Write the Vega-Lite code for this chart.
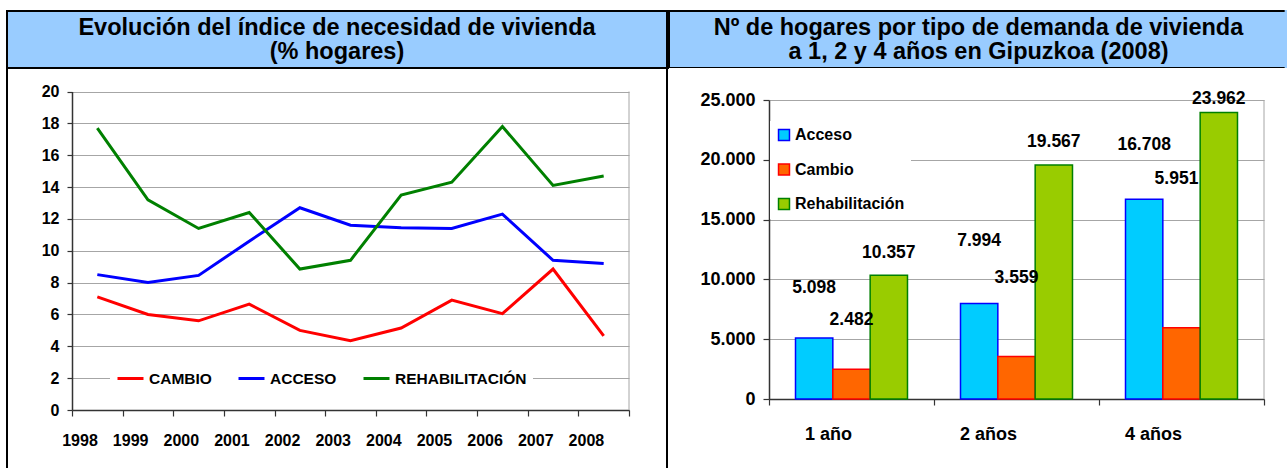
{
  "$schema": "https://vega.github.io/schema/vega-lite/v6.json",
  "padding": {"left": 6, "top": 10, "right": 0, "bottom": 0},
  "background": "white",
  "spacing": 0,
  "resolve": {"legend": {"color": "independent", "fill": "independent", "stroke": "independent"}},
  "config": {
    "locale": {"number": {"decimal": ",", "thousands": ".", "grouping": [3], "currency": ["", " €"]}},
    "view": {"stroke": null},
    "axis": {
      "labelFont": "Liberation Sans",
      "labelFontWeight": "bold",
      "labelColor": "black",
      "domainColor": "#333333",
      "domainWidth": 1.5,
      "tickColor": "#333333",
      "tickWidth": 1.2,
      "gridColor": "#a6a6a6",
      "gridWidth": 1,
      "title": null
    }
  },
  "hconcat": [
    {
      "spacing": 0,
      "bounds": "flush",
      "resolve": {"legend": {"color": "independent", "fill": "independent", "stroke": "independent"}},
      "vconcat": [
        {
          "width": 660,
          "height": 57,
          "view": {"fill": "#99ccff", "stroke": "black", "strokeWidth": 2},
          "data": {"values": [{}]},
          "mark": {"type": "text", "text": ""},
          "title": {
            "text": ["Evolución del índice de necesidad de vivienda", "(% hogares)"],
            "orient": "top",
            "anchor": "middle",
            "frame": "group",
            "offset": -64.5,
            "baseline": "middle",
            "lineHeight": 24,
            "font": "Liberation Sans",
            "fontSize": 23.5,
            "fontWeight": "bold",
            "color": "black"
          }
        },
        {
          "width": 660,
          "height": 403,
          "view": {
            "fill": "white",
            "strokeWidth": 2,
            "stroke": {
              "gradient": "linear", "x1": 0, "y1": 0, "x2": 0, "y2": 1,
              "stops": [
                {"offset": 0, "color": "black"},
                {"offset": 0.993, "color": "black"},
                {"offset": 0.9935, "color": "white"},
                {"offset": 1, "color": "white"}
              ]
            }
          },
          "layer": [
            {
              "data": {"values": [{}]},
              "mark": {"type": "rule", "color": "#a6a6a6", "strokeWidth": 1},
              "encoding": {
                "x": {"datum": "2008", "type": "nominal", "bandPosition": 1},
                "y": {"datum": 0, "type": "quantitative"},
                "y2": {"datum": 20}
              }
            },
            {
              "data": {
                "values": [
                  {"year": "1998", "serie": "CAMBIO", "value": 7.1},
                  {"year": "1999", "serie": "CAMBIO", "value": 6.0},
                  {"year": "2000", "serie": "CAMBIO", "value": 5.6},
                  {"year": "2001", "serie": "CAMBIO", "value": 6.65},
                  {"year": "2002", "serie": "CAMBIO", "value": 5.0},
                  {"year": "2003", "serie": "CAMBIO", "value": 4.35},
                  {"year": "2004", "serie": "CAMBIO", "value": 5.15},
                  {"year": "2005", "serie": "CAMBIO", "value": 6.9},
                  {"year": "2006", "serie": "CAMBIO", "value": 6.05},
                  {"year": "2007", "serie": "CAMBIO", "value": 8.85},
                  {"year": "2008", "serie": "CAMBIO", "value": 4.65},
                  {"year": "1998", "serie": "ACCESO", "value": 8.5},
                  {"year": "1999", "serie": "ACCESO", "value": 8.0},
                  {"year": "2000", "serie": "ACCESO", "value": 8.45},
                  {"year": "2001", "serie": "ACCESO", "value": 10.6},
                  {"year": "2002", "serie": "ACCESO", "value": 12.7},
                  {"year": "2003", "serie": "ACCESO", "value": 11.6},
                  {"year": "2004", "serie": "ACCESO", "value": 11.45},
                  {"year": "2005", "serie": "ACCESO", "value": 11.4},
                  {"year": "2006", "serie": "ACCESO", "value": 12.3},
                  {"year": "2007", "serie": "ACCESO", "value": 9.4},
                  {"year": "2008", "serie": "ACCESO", "value": 9.2},
                  {"year": "1998", "serie": "REHABILITACIÓN", "value": 17.7},
                  {"year": "1999", "serie": "REHABILITACIÓN", "value": 13.2},
                  {"year": "2000", "serie": "REHABILITACIÓN", "value": 11.4},
                  {"year": "2001", "serie": "REHABILITACIÓN", "value": 12.4},
                  {"year": "2002", "serie": "REHABILITACIÓN", "value": 8.85},
                  {"year": "2003", "serie": "REHABILITACIÓN", "value": 9.4},
                  {"year": "2004", "serie": "REHABILITACIÓN", "value": 13.5},
                  {"year": "2005", "serie": "REHABILITACIÓN", "value": 14.3},
                  {"year": "2006", "serie": "REHABILITACIÓN", "value": 17.8},
                  {"year": "2007", "serie": "REHABILITACIÓN", "value": 14.1},
                  {"year": "2008", "serie": "REHABILITACIÓN", "value": 14.7}
                ]
              },
              "mark": {"type": "line", "strokeWidth": 3},
              "encoding": {
                "x": {
                  "field": "year",
                  "type": "nominal",
                  "scale": {"type": "band", "range": [65, 622], "paddingInner": 0, "paddingOuter": 0},
                  "axis": {
                    "orient": "bottom",
                    "offset": -61,
                    "tickBand": "extent",
                    "tickSize": 6,
                    "labelPadding": 24,
                    "labelFontSize": 16,
                    "labelAngle": 0,
                    "grid": false
                  }
                },
                "y": {
                  "field": "value",
                  "type": "quantitative",
                  "scale": {"domain": [0, 20], "range": [342, 23.5], "nice": false},
                  "axis": {
                    "orient": "left",
                    "offset": -65,
                    "values": [0, 2, 4, 6, 8, 10, 12, 14, 16, 18, 20],
                    "tickSize": 5,
                    "labelPadding": 8,
                    "labelFontSize": 16,
                    "grid": true
                  }
                },
                "color": {
                  "field": "serie",
                  "type": "nominal",
                  "sort": ["CAMBIO", "ACCESO", "REHABILITACIÓN"],
                  "scale": {"domain": ["CAMBIO", "ACCESO", "REHABILITACIÓN"], "range": ["#ff0000", "#0000ff", "#008000"]},
                  "legend": {
                    "orient": "none",
                    "legendX": 103,
                    "legendY": 290,
                    "direction": "horizontal",
                    "title": null,
                    "fillColor": "white",
                    "padding": 6,
                    "symbolType": "stroke",
                    "symbolSize": 676,
                    "symbolStrokeWidth": 3,
                    "labelFont": "Liberation Sans",
                    "labelFontSize": 15.5,
                    "labelFontWeight": "bold",
                    "labelColor": "black",
                    "labelOffset": 4,
                    "labelLimit": 400,
                    "columnPadding": 20
                  }
                }
              }
            }
          ]
        }
      ]
    },
    {
      "spacing": 0,
      "bounds": "flush",
      "resolve": {"legend": {"color": "independent", "fill": "independent", "stroke": "independent"}},
      "vconcat": [
        {
          "width": 619,
          "height": 57,
          "view": {
            "fill": "#99ccff",
            "strokeWidth": 2,
            "stroke": {
              "gradient": "linear", "x1": 0, "y1": 0, "x2": 1, "y2": 0,
              "stops": [
                {"offset": 0, "color": "black"},
                {"offset": 0.994, "color": "black"},
                {"offset": 0.995, "color": "#99ccff"},
                {"offset": 1, "color": "#99ccff"}
              ]
            }
          },
          "data": {"values": [{}]},
          "mark": {"type": "text", "text": ""},
          "title": {
            "text": ["Nº de hogares por tipo de demanda de vivienda", "a 1, 2 y 4 años en Gipuzkoa (2008)"],
            "orient": "top",
            "anchor": "middle",
            "frame": "group",
            "offset": -64.5,
            "baseline": "middle",
            "lineHeight": 24,
            "font": "Liberation Sans",
            "fontSize": 23.5,
            "fontWeight": "bold",
            "color": "black"
          }
        },
        {
          "width": 619,
          "height": 403,
          "view": {"fill": "white", "stroke": null},
          "data": {
            "values": [
              {"plazo": "1 año", "tipo": "Acceso", "value": 5098},
              {"plazo": "1 año", "tipo": "Cambio", "value": 2482},
              {"plazo": "1 año", "tipo": "Rehabilitación", "value": 10357},
              {"plazo": "2 años", "tipo": "Acceso", "value": 7994},
              {"plazo": "2 años", "tipo": "Cambio", "value": 3559},
              {"plazo": "2 años", "tipo": "Rehabilitación", "value": 19567},
              {"plazo": "4 años", "tipo": "Acceso", "value": 16708},
              {"plazo": "4 años", "tipo": "Cambio", "value": 5951},
              {"plazo": "4 años", "tipo": "Rehabilitación", "value": 23962}
            ]
          },
          "layer": [
            {
              "data": {"values": [{}]},
              "mark": {"type": "rule", "color": "#a6a6a6", "strokeWidth": 1},
              "encoding": {
                "x": {"datum": "4 años", "type": "nominal", "bandPosition": 1},
                "y": {"datum": 0, "type": "quantitative"},
                "y2": {"datum": 25000}
              }
            },
            {
              "mark": {"type": "bar", "strokeWidth": 1.5},
              "encoding": {
                "x": {
                  "field": "plazo",
                  "type": "nominal",
                  "scale": {"type": "band", "range": [100, 595], "paddingInner": 0, "paddingOuter": 0},
                  "axis": {
                    "orient": "bottom",
                    "offset": -72,
                    "tickBand": "extent",
                    "tickSize": 6,
                    "labelPadding": 29,
                    "labelFontSize": 18,
                    "labelAngle": 0,
                    "grid": false
                  }
                },
                "xOffset": {
                  "field": "tipo",
                  "type": "nominal",
                  "scale": {"paddingInner": 0, "paddingOuter": 0.71}
                },
                "y": {
                  "field": "value",
                  "type": "quantitative",
                  "scale": {"domain": [0, 25000], "range": [331, 32], "nice": false},
                  "axis": {
                    "orient": "left",
                    "offset": -100,
                    "values": [0, 5000, 10000, 15000, 20000, 25000],
                    "format": ",d",
                    "tickSize": 6,
                    "labelPadding": 8,
                    "labelFontSize": 18,
                    "grid": true
                  }
                },
                "fill": {
                  "field": "tipo",
                  "type": "nominal",
                  "scale": {"domain": ["Acceso", "Cambio", "Rehabilitación"], "range": ["#00ccff", "#ff6600", "#99cc00"]},
                  "legend": {
                    "orient": "none",
                    "legendX": 101,
                    "legendY": 53,
                    "direction": "vertical",
                    "title": null,
                    "fillColor": "white",
                    "padding": 6,
                    "symbolType": "square",
                    "symbolSize": 120,
                    "symbolStrokeWidth": 1.5,
                    "labelFont": "Liberation Sans",
                    "labelFontSize": 16,
                    "labelFontWeight": "bold",
                    "labelColor": "black",
                    "labelOffset": 3,
                    "labelLimit": 300,
                    "rowPadding": 16.5
                  }
                },
                "stroke": {
                  "field": "tipo",
                  "type": "nominal",
                  "scale": {"domain": ["Acceso", "Cambio", "Rehabilitación"], "range": ["#0000ff", "#ff0000", "#008000"]},
                  "legend": {
                    "orient": "none",
                    "legendX": 101,
                    "legendY": 53,
                    "direction": "vertical",
                    "title": null,
                    "fillColor": "white",
                    "padding": 6,
                    "symbolType": "square",
                    "symbolSize": 120,
                    "symbolStrokeWidth": 1.5,
                    "labelFont": "Liberation Sans",
                    "labelFontSize": 16,
                    "labelFontWeight": "bold",
                    "labelColor": "black",
                    "labelOffset": 3,
                    "labelLimit": 300,
                    "rowPadding": 16.5
                  }
                }
              }
            },
            {
              "transform": [{"filter": "datum.plazo === '1 año' && datum.tipo === 'Acceso'"}],
              "mark": {"type": "text", "font": "Liberation Sans", "fontSize": 17.5, "fontWeight": "bold", "color": "black", "baseline": "middle", "dy": -50},
              "encoding": {
                "x": {"field": "plazo", "type": "nominal"},
                "xOffset": {"field": "tipo", "type": "nominal"},
                "y": {"field": "value", "type": "quantitative"},
                "text": {"field": "value", "type": "quantitative", "format": ",d"}
              }
            },
            {
              "transform": [{"filter": "datum.plazo === '2 años' && datum.tipo === 'Acceso'"}],
              "mark": {"type": "text", "font": "Liberation Sans", "fontSize": 17.5, "fontWeight": "bold", "color": "black", "baseline": "middle", "dy": -62},
              "encoding": {
                "x": {"field": "plazo", "type": "nominal"},
                "xOffset": {"field": "tipo", "type": "nominal"},
                "y": {"field": "value", "type": "quantitative"},
                "text": {"field": "value", "type": "quantitative", "format": ",d"}
              }
            },
            {
              "transform": [{"filter": "datum.plazo === '4 años' && datum.tipo === 'Acceso'"}],
              "mark": {"type": "text", "font": "Liberation Sans", "fontSize": 17.5, "fontWeight": "bold", "color": "black", "baseline": "middle", "dy": -54},
              "encoding": {
                "x": {"field": "plazo", "type": "nominal"},
                "xOffset": {"field": "tipo", "type": "nominal"},
                "y": {"field": "value", "type": "quantitative"},
                "text": {"field": "value", "type": "quantitative", "format": ",d"}
              }
            },
            {
              "transform": [{"filter": "datum.plazo === '1 año' && datum.tipo === 'Cambio'"}],
              "mark": {"type": "text", "font": "Liberation Sans", "fontSize": 17.5, "fontWeight": "bold", "color": "black", "baseline": "middle", "dy": -49},
              "encoding": {
                "x": {"field": "plazo", "type": "nominal"},
                "xOffset": {"field": "tipo", "type": "nominal"},
                "y": {"field": "value", "type": "quantitative"},
                "text": {"field": "value", "type": "quantitative", "format": ",d"}
              }
            },
            {
              "transform": [{"filter": "datum.plazo === '2 años' && datum.tipo === 'Cambio'"}],
              "mark": {"type": "text", "font": "Liberation Sans", "fontSize": 17.5, "fontWeight": "bold", "color": "black", "baseline": "middle", "dy": -78},
              "encoding": {
                "x": {"field": "plazo", "type": "nominal"},
                "xOffset": {"field": "tipo", "type": "nominal"},
                "y": {"field": "value", "type": "quantitative"},
                "text": {"field": "value", "type": "quantitative", "format": ",d"}
              }
            },
            {
              "transform": [{"filter": "datum.plazo === '4 años' && datum.tipo === 'Cambio'"}],
              "mark": {"type": "text", "font": "Liberation Sans", "fontSize": 17.5, "fontWeight": "bold", "color": "black", "baseline": "middle", "dy": -149, "dx": -5},
              "encoding": {
                "x": {"field": "plazo", "type": "nominal"},
                "xOffset": {"field": "tipo", "type": "nominal"},
                "y": {"field": "value", "type": "quantitative"},
                "text": {"field": "value", "type": "quantitative", "format": ",d"}
              }
            },
            {
              "transform": [{"filter": "datum.plazo === '1 año' && datum.tipo === 'Rehabilitación'"}],
              "mark": {"type": "text", "font": "Liberation Sans", "fontSize": 17.5, "fontWeight": "bold", "color": "black", "baseline": "middle", "dy": -22},
              "encoding": {
                "x": {"field": "plazo", "type": "nominal"},
                "xOffset": {"field": "tipo", "type": "nominal"},
                "y": {"field": "value", "type": "quantitative"},
                "text": {"field": "value", "type": "quantitative", "format": ",d"}
              }
            },
            {
              "transform": [{"filter": "datum.plazo === '2 años' && datum.tipo === 'Rehabilitación'"}],
              "mark": {"type": "text", "font": "Liberation Sans", "fontSize": 17.5, "fontWeight": "bold", "color": "black", "baseline": "middle", "dy": -23},
              "encoding": {
                "x": {"field": "plazo", "type": "nominal"},
                "xOffset": {"field": "tipo", "type": "nominal"},
                "y": {"field": "value", "type": "quantitative"},
                "text": {"field": "value", "type": "quantitative", "format": ",d"}
              }
            },
            {
              "transform": [{"filter": "datum.plazo === '4 años' && datum.tipo === 'Rehabilitación'"}],
              "mark": {"type": "text", "font": "Liberation Sans", "fontSize": 17.5, "fontWeight": "bold", "color": "black", "baseline": "middle", "dy": -13},
              "encoding": {
                "x": {"field": "plazo", "type": "nominal"},
                "xOffset": {"field": "tipo", "type": "nominal"},
                "y": {"field": "value", "type": "quantitative"},
                "text": {"field": "value", "type": "quantitative", "format": ",d"}
              }
            }
          ]
        }
      ]
    }
  ]
}
